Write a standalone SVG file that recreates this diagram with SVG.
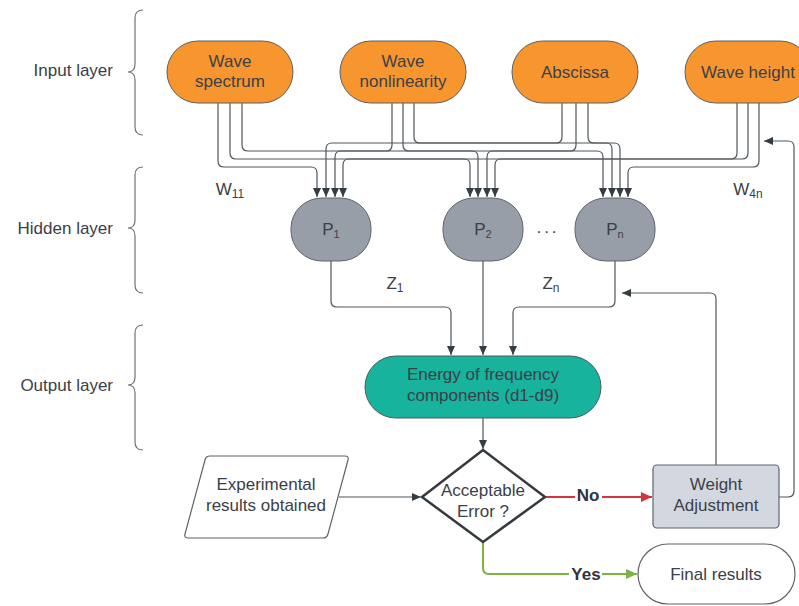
<svg xmlns="http://www.w3.org/2000/svg" width="799" height="606" viewBox="0 0 799 606">
<defs>
<style>
.t{font-family:"Liberation Sans",Arial,sans-serif;font-size:17px;fill:#3b4048;text-anchor:middle}
.lbl{font-family:"Liberation Sans",Arial,sans-serif;font-size:17px;fill:#3b4048;text-anchor:end}
.in{fill:#F7962F;stroke:#5f5f5f;stroke-width:1}
.hid{fill:#979ea8;stroke:#5f646b;stroke-width:1}
.c{fill:none;stroke:#50565d;stroke-width:1.2}
.brace{fill:none;stroke:#6f7379;stroke-width:1.2}
</style>
<marker id="ah" viewBox="0 0 9 8" refX="9" refY="4" markerWidth="9" markerHeight="8" markerUnits="userSpaceOnUse" orient="auto"><path d="M0,0 L9,4 L0,8 z" fill="#363c44"/></marker>
<marker id="ahr" viewBox="0 0 9 8" refX="9" refY="4" markerWidth="11" markerHeight="10" markerUnits="userSpaceOnUse" orient="auto"><path d="M0,0 L9,4 L0,8 z" fill="#d3343f"/></marker>
<marker id="ahg" viewBox="0 0 9 8" refX="9" refY="4" markerWidth="11" markerHeight="10" markerUnits="userSpaceOnUse" orient="auto"><path d="M0,0 L9,4 L0,8 z" fill="#7cb342"/></marker>
</defs>
<rect width="799" height="606" fill="#ffffff"/>

<g id="layer-labels">
<text class="lbl" x="113" y="76">Input layer</text>
<text class="lbl" x="113" y="234">Hidden layer</text>
<text class="lbl" x="113" y="391">Output layer</text>
<path class="brace" d="M143,10 Q135,10 135,18 V64 Q135,72 128,72 Q135,72 135,80 V127 Q135,135 143,135"/>
<path class="brace" d="M143,167 Q135,167 135,175 V220 Q135,228 128,228 Q135,228 135,236 V285 Q135,293 143,293"/>
<path class="brace" d="M143,325 Q135,325 135,333 V377 Q135,385 128,385 Q135,385 135,393 V442 Q135,450 143,450"/>
</g>

<g id="connectors">
<path class="c" marker-end="url(#ah)" d="M218,103 V161 Q218,167 224,167 H311 Q317,167 317,173 V197"/>
<path class="c" marker-end="url(#ah)" d="M230,103 V153 Q230,159 236,159 H464 Q470,159 470,165 V197"/>
<path class="c" marker-end="url(#ah)" d="M242,103 V145 Q242,151 248,151 H597 Q603,151 603,157 V197"/>
<path class="c" marker-end="url(#ah)" d="M392,103 V145 Q392,151 386,151 H341 Q335,151 335,157 V197"/>
<path class="c" marker-end="url(#ah)" d="M403,103 V145 Q403,151 409,151 H472 Q478,151 478,157 V197"/>
<path class="c" marker-end="url(#ah)" d="M414,103 V137 Q414,143 420,143 H614 Q620,143 620,149 V197"/>
<path class="c" marker-end="url(#ah)" d="M562,103 V137 Q562,143 556,143 H332 Q326,143 326,149 V197"/>
<path class="c" marker-end="url(#ah)" d="M576,103 V145 Q576,151 570,151 H493 Q487,151 487,157 V197"/>
<path class="c" marker-end="url(#ah)" d="M588,103 V137 Q588,143 594,143 H606 Q612,143 612,149 V197"/>
<path class="c" marker-end="url(#ah)" d="M737,103 V153 Q737,159 731,159 H349 Q343,159 343,165 V197"/>
<path class="c" marker-end="url(#ah)" d="M748,103 V153 Q748,159 742,159 H501 Q495,159 495,165 V197"/>
<path class="c" marker-end="url(#ah)" d="M759,103 V161 Q759,167 753,167 H634 Q628,167 628,173 V197"/>

<path class="c" marker-end="url(#ah)" d="M331,261 V301 Q331,307 337,307 H445 Q451,307 451,313 V355"/>
<path class="c" marker-end="url(#ah)" d="M483,261 V355"/>
<path class="c" marker-end="url(#ah)" d="M615,261 V301 Q615,307 609,307 H519 Q513,307 513,313 V355"/>
<path class="c" marker-end="url(#ah)" d="M483,418 V449"/>
<path class="c" marker-end="url(#ah)" d="M339,497 H421"/>
<path class="c" marker-end="url(#ah)" d="M716,465 V299 Q716,293 710,293 H622"/>
<path class="c" marker-end="url(#ah)" d="M779,497 H788 Q794,497 794,491 V147 Q794,141 788,141 H764"/>
<path fill="none" stroke="#d3343f" stroke-width="2" marker-end="url(#ahr)" d="M545,497 H652"/>
<path fill="none" stroke="#7cb342" stroke-width="2" marker-end="url(#ahg)" d="M483,542 V568 Q483,574 489,574 H637"/>
<rect x="575" y="485" width="27" height="20" fill="#ffffff"/>
<text x="588" y="501" class="t" style="font-weight:bold;fill:#2f343a">No</text>
<rect x="569" y="562" width="33" height="20" fill="#ffffff"/>
<text x="586" y="580" class="t" style="font-weight:bold;fill:#2f343a">Yes</text>
</g>

<g id="input-wave-spectrum">
<rect class="in" x="167" y="41" width="126" height="62" rx="31"/>
<text class="t" x="230" y="67">Wave</text>
<text class="t" x="230" y="87">spectrum</text>
</g>
<g id="input-wave-nonlinearity">
<rect class="in" x="340" y="41" width="126" height="62" rx="31"/>
<text class="t" x="403" y="67">Wave</text>
<text class="t" x="403" y="87">nonlinearity</text>
</g>
<g id="input-abscissa">
<rect class="in" x="512" y="41" width="126" height="62" rx="31"/>
<text class="t" x="575" y="78">Abscissa</text>
</g>
<g id="input-wave-height">
<rect class="in" x="685" y="41" width="126" height="62" rx="31"/>
<text class="t" x="748" y="78">Wave height</text>
</g>

<g id="hidden-p1">
<rect class="hid" x="291" y="198" width="80" height="63" rx="31" ry="30"/>
<text class="t" x="331" y="235">P<tspan font-size="11" dy="3">1</tspan></text>
</g>
<g id="hidden-p2">
<rect class="hid" x="443" y="198" width="80" height="63" rx="31" ry="30"/>
<text class="t" x="483" y="235">P<tspan font-size="11" dy="3">2</tspan></text>
</g>
<g id="hidden-dots">
<text class="t" x="548" y="233" style="letter-spacing:3px">...</text>
</g>
<g id="hidden-pn">
<rect class="hid" x="575" y="198" width="80" height="63" rx="31" ry="30"/>
<text class="t" x="615" y="235">P<tspan font-size="11" dy="3">n</tspan></text>
</g>

<g id="weight-labels">
<text class="t" x="230" y="195">W<tspan font-size="12" dy="3">11</tspan></text>
<text class="t" x="748" y="195">W<tspan font-size="12" dy="3">4n</tspan></text>
<text class="t" x="395" y="289">Z<tspan font-size="12" dy="3">1</tspan></text>
<text class="t" x="551" y="289">Z<tspan font-size="12" dy="3">n</tspan></text>
</g>

<g id="output-energy">
<rect x="365" y="356" width="236" height="62" rx="31" fill="#17b39c" stroke="#4f5a5a" stroke-width="1"/>
<text class="t" x="483" y="380">Energy of frequency</text>
<text class="t" x="483" y="401">components (d1-d9)</text>
</g>

<g id="decision-acceptable-error">
<path d="M483,450 L545,497 L483,542 L422,497 Z" fill="#ffffff" stroke="#343a40" stroke-width="2.5" stroke-linejoin="round"/>
<text class="t" x="483" y="496">Acceptable</text>
<text class="t" x="483" y="517">Error ?</text>
</g>

<g id="experimental-results">
<path d="M210,456 H345 Q349,456 348,460 L328,534 Q327,538 323,538 H188 Q184,538 185,534 L205,460 Q206,456 210,456 Z" fill="#ffffff" stroke="#5f646b" stroke-width="1.2"/>
<text class="t" x="266" y="490">Experimental</text>
<text class="t" x="266" y="511">results obtained</text>
</g>

<g id="weight-adjustment">
<rect x="653" y="465" width="126" height="63" rx="4" fill="#d3d8e0" stroke="#5f646b" stroke-width="1.2"/>
<text class="t" x="716" y="490">Weight</text>
<text class="t" x="716" y="511">Adjustment</text>
</g>

<g id="final-results">
<rect x="638" y="544" width="157" height="60" rx="30" fill="#ffffff" stroke="#5f646b" stroke-width="1.2"/>
<text class="t" x="716" y="580">Final results</text>
</g>
</svg>
